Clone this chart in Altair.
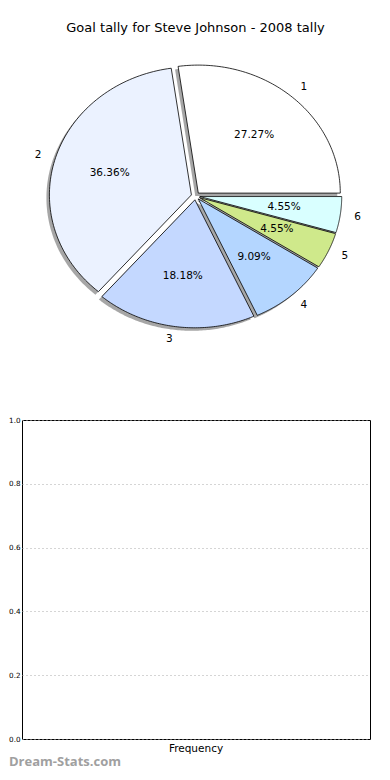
import altair as alt
import pandas as pd

# ---- data ----
labels = ["1", "2", "3", "4", "5", "6"]
values = [6, 8, 4, 2, 1, 1]
colors = ["#ffffff", "#ebf2ff", "#c4d8ff", "#b4d6ff", "#cfe98b", "#d9ffff"]

freq_categories = ["Frequency"]
freq_values = [0]
y_ticks = [0.0, 0.2, 0.4, 0.6, 0.8, 1.0]

TITLE = "Goal tally for Steve Johnson - 2008 tally"
WATERMARK = "Dream-Stats.com"

# ---- style constants ----
EXPLODE = 0.03
N = 90
FONT = "DejaVu Sans"
PIE_W, PIE_H = 347, 300
LX = (PIE_W / 2) / 142.0
LY = (PIE_H / 2) / 128.0

pie_df = pd.DataFrame({"label": labels, "value": values, "idx": list(range(len(labels)))})

xs = alt.Scale(domain=[-LX, LX], nice=False, zero=False)
ys = alt.Scale(domain=[-LY, LY], nice=False, zero=False)

base = (
    alt.Chart(pie_df)
    .transform_window(cum="sum(value)", sort=[alt.SortField("idx")])
    .transform_joinaggregate(total="sum(value)")
    .transform_calculate(
        a0="2*PI*(datum.cum-datum.value)/datum.total",
        a1="2*PI*datum.cum/datum.total",
    )
    .transform_calculate(
        mid="(datum.a0+datum.a1)/2",
        pct="format(100*datum.value/datum.total, '.2f') + '%'",
    )
    .transform_calculate(
        ex=f"{EXPLODE}*cos(datum.mid)",
        ey=f"{EXPLODE}*sin(datum.mid)",
    )
)

poly = (
    base.transform_calculate(step=f"sequence(0,{N + 1})")
    .transform_flatten(["step"])
    .transform_calculate(
        ang=f"datum.a0+(datum.a1-datum.a0)*(datum.step-1)/{N - 1}",
        r="datum.step==0?0:1",
    )
    .transform_calculate(
        px="datum.ex+datum.r*cos(datum.ang)",
        py="datum.ey+datum.r*sin(datum.ang)",
    )
)

shadow = poly.mark_line(
    interpolate="linear-closed",
    fill="#4d4d4d",
    fillOpacity=0.5,
    strokeOpacity=0,
    xOffset=-3,
    yOffset=3,
).encode(
    x=alt.X("px:Q", scale=xs, axis=None),
    y=alt.Y("py:Q", scale=ys, axis=None),
    detail="label:N",
    order="step:Q",
)

wedges = poly.mark_line(
    interpolate="linear-closed", stroke="black", strokeWidth=0.8
).encode(
    x=alt.X("px:Q", scale=xs, axis=None),
    y=alt.Y("py:Q", scale=ys, axis=None),
    fill=alt.Fill("label:N", scale=alt.Scale(domain=labels, range=colors), legend=None),
    detail="label:N",
    order="step:Q",
)

pct_text = base.transform_calculate(
    tx="datum.ex+0.6*cos(datum.mid)",
    ty="datum.ey+0.6*sin(datum.mid)",
).mark_text(font=FONT, fontSize=10.5, color="black", baseline="middle").encode(
    x=alt.X("tx:Q", scale=xs, axis=None),
    y=alt.Y("ty:Q", scale=ys, axis=None),
    text="pct:N",
)

lab_base = base.transform_calculate(
    tx="datum.ex+1.1*cos(datum.mid)",
    ty="datum.ey+1.1*sin(datum.mid)",
    side="cos(datum.mid) >= 0 ? 1 : 0",
)
lab_right = lab_base.transform_filter("datum.side == 1").mark_text(
    font=FONT, fontSize=10.5, color="black", align="left", baseline="middle"
).encode(
    x=alt.X("tx:Q", scale=xs, axis=None),
    y=alt.Y("ty:Q", scale=ys, axis=None),
    text="label:N",
)
lab_left = lab_base.transform_filter("datum.side == 0").mark_text(
    font=FONT, fontSize=10.5, color="black", align="right", baseline="middle"
).encode(
    x=alt.X("tx:Q", scale=xs, axis=None),
    y=alt.Y("ty:Q", scale=ys, axis=None),
    text="label:N",
)

pie = alt.layer(shadow, wedges, pct_text, lab_right, lab_left).properties(
    width=PIE_W,
    height=PIE_H,
    title=alt.TitleParams(
        TITLE, font=FONT, fontSize=13, fontWeight="normal", color="black",
        anchor="middle", offset=11,
    ),
    view=alt.ViewBackground(strokeWidth=0),
)

# ---- bottom (empty) frequency chart ----
bar_df = pd.DataFrame({"category": freq_categories, "freq": freq_values})
bars = alt.Chart(bar_df).mark_bar(color="#4c72b0").encode(
    x=alt.X(
        "category:N",
        scale=alt.Scale(domain=freq_categories),
        axis=alt.Axis(
            title=None, labelAngle=0, ticks=False, domain=False,
            labelFont=FONT, labelFontSize=10.5, labelColor="black", labelPadding=4,
        ),
    ),
    y=alt.Y(
        "freq:Q",
        scale=alt.Scale(domain=[0, 1], nice=False),
        axis=alt.Axis(
            values=y_ticks, format=".1f", title=None, grid=True,
            gridDash=[1, 3], gridColor="#aaaaaa", gridWidth=1,
            ticks=False, domain=False,
            labelFont=FONT, labelFontSize=7.2, labelColor="black", labelPadding=2,
        ),
    ),
)

wm = alt.Chart(pd.DataFrame({"t": [WATERMARK]})).mark_text(
    align="left", baseline="middle", font="Open Sans", fontSize=13,
    fontWeight="bold", color="#a0a0a0",
).encode(x=alt.value(-13), y=alt.value(342), text="t:N")

bottom = alt.layer(bars, wm).properties(
    width=348,
    height=319,
    view=alt.ViewBackground(stroke="black", strokeWidth=1),
)

chart = (
    alt.vconcat(pie, bottom, spacing=69)
    .properties(padding={"top": 14, "left": 0, "right": 0, "bottom": 0})
    .configure(background="white")
)

chart.save("out.html", embed_options={"renderer": "svg", "actions": False})
